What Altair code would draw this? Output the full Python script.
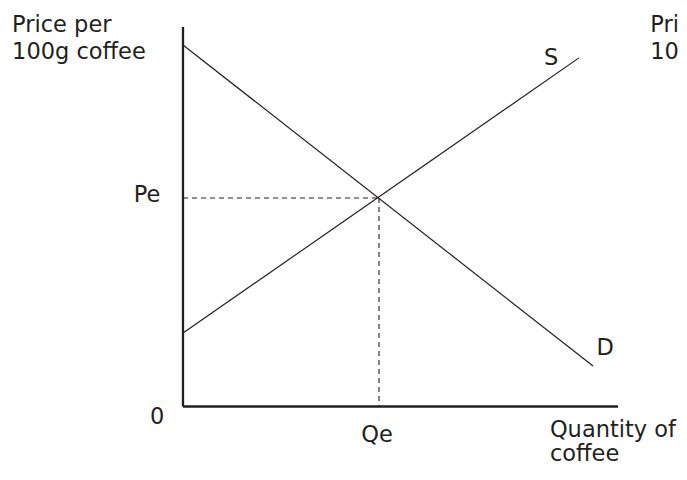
import altair as alt
import pandas as pd

# ---- data (schematic units) ----
curve_names = ["D", "S"]
curve_q0 = [0.0, 0.0]
curve_p0 = [8.67, 1.76]
curve_q1 = [10.46, 10.10]
curve_p1 = [0.97, 8.36]

q_e = 5.0
p_e = 5.0
q_axis_max = 11.10
p_axis_max = 9.10

left_text = ["Price per", "100g coffee", "Price per", "100g coffee", "Quantity of", "coffee"]
left_q = [-4.36, -4.36, 11.92, 11.92, 9.36, 9.36]
left_p = [8.99, 8.33, 8.99, 8.33, -0.72, -1.31]

center_text = ["S", "D", "Pe", "0", "Qe"]
center_q = [9.39, 10.77, -0.92, -0.66, 4.95]
center_p = [8.19, 1.235, 4.90, -0.42, -0.85]

INK = "#231f20"
FONT = "DejaVu Sans"
FSIZE = 22.5

xs = alt.Scale(domain=[-4.464, 12.653], nice=False, zero=False)
ys = alt.Scale(domain=[-1.451, 9.556], nice=False, zero=False)

curves = pd.DataFrame({"name": curve_names, "q0": curve_q0, "p0": curve_p0,
                       "q1": curve_q1, "p1": curve_p1})
axes_df = pd.DataFrame({"q0": [0.0, 0.0], "p0": [0.0, 0.0],
                        "q1": [q_axis_max, 0.0], "p1": [0.0, p_axis_max]})
dash_df = pd.DataFrame({"q0": [0.0, q_e], "p0": [p_e, p_e],
                        "q1": [q_e, q_e], "p1": [p_e, 0.0]})
left_df = pd.DataFrame({"t": left_text, "q": left_q, "p": left_p})
center_df = pd.DataFrame({"t": center_text, "q": center_q, "p": center_p})


def seg(df, **mk):
    return alt.Chart(df).mark_rule(**mk).encode(
        x=alt.X("q0:Q", scale=xs, axis=None),
        y=alt.Y("p0:Q", scale=ys, axis=None),
        x2="q1:Q",
        y2="p1:Q",
    )


axes_layer = seg(axes_df, color=INK, strokeWidth=2.3)
curve_layer = seg(curves, color=INK, strokeWidth=1.2)
dash_layer = seg(dash_df, color=INK, strokeWidth=1.1, strokeDash=[5, 4])

left_layer = alt.Chart(left_df).mark_text(
    align="left", baseline="alphabetic", font=FONT, fontSize=FSIZE, color=INK
).encode(
    x=alt.X("q:Q", scale=xs, axis=None),
    y=alt.Y("p:Q", scale=ys, axis=None),
    text="t:N",
)
center_layer = alt.Chart(center_df).mark_text(
    align="center", baseline="alphabetic", font=FONT, fontSize=FSIZE, color=INK
).encode(
    x=alt.X("q:Q", scale=xs, axis=None),
    y=alt.Y("p:Q", scale=ys, axis=None),
    text="t:N",
)

chart = alt.layer(axes_layer, curve_layer, dash_layer, left_layer, center_layer).properties(
    width=671,
    height=459,
    padding=0,
    autosize=alt.AutoSizeParams(type="none"),
    background="white",
).configure_view(stroke=None)

chart.save("out.html", embed_options={"renderer": "svg", "actions": False})
